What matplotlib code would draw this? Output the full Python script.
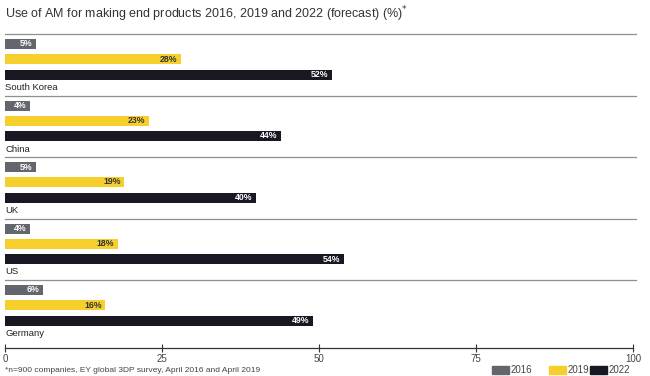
import matplotlib.pyplot as plt
from matplotlib.patches import Rectangle

countries = ['South Korea', 'China', 'UK', 'US', 'Germany']
v2016 = [5, 4, 5, 4, 6]
v2019 = [28, 23, 19, 18, 16]
v2022 = [52, 44, 40, 54, 49]
years = ['2016', '2019', '2022']
colors = ['#63666c', '#f7cf2c', '#171822']
txt_colors = ['white', '#333333', 'white']

plt.rcParams['font.family'] = ['Liberation Sans', 'DejaVu Sans']

W, H = 650, 376
fig = plt.figure(figsize=(W / 100, H / 100), dpi=100)
ax = fig.add_axes([5 / W, 1 - 348 / H, 628 / W, (348 - 34) / H])

grp = 61.5          # group height in pixel-like units
offs = [10, 25, 40.5]
bh = 10

for i, c in enumerate(countries):
    y0 = i * grp
    ax.axhline(y0, color='#8f8f8f', lw=0.9, xmin=0, xmax=1.005, clip_on=False)
    for k, vals in enumerate([v2016, v2019, v2022]):
        v = vals[i]
        ax.barh(y0 + offs[k], v, height=bh, color=colors[k], left=0)
        ax.text(v - 0.6, y0 + offs[k], f'{v}%', ha='right', va='center',
                fontsize=6.3, fontweight='bold', color=txt_colors[k])
    ax.text(0, y0 + 53.5, c, ha='left', va='center', fontsize=6.8,
            color='#222222')

ax.set_xlim(0, 100)
ax.set_ylim(314, 0)
for s in ['top', 'right', 'left']:
    ax.spines[s].set_visible(False)
ax.spines['bottom'].set_color('#333333')
ax.spines['bottom'].set_linewidth(0.9)
ax.set_yticks([])
ax.set_xticks([0, 25, 50, 75, 100])
ax.tick_params(axis='x', direction='inout', length=6, width=0.8,
               colors='#333333', labelsize=7, pad=1, labelcolor='#444444')

fig.text(5 / W, 1 - 14 / H, 'Use of AM for making end products 2016, 2019 and 2022 (forecast) (%)$^{*}$',
         ha='left', va='center', fontsize=9, color='#333333')
fig.text(5 / W, 1 - 370 / H, '*n=900 companies, EY global 3DP survey, April 2016 and April 2019',
         ha='left', va='center', fontsize=6, color='#444444')

lx = [492, 549, 590]
for k, yr in enumerate(years):
    fig.patches.append(Rectangle((lx[k] / W, 1 - 374 / H), 17 / W, 8 / H,
                                 transform=fig.transFigure, color=colors[k]))
    fig.text((lx[k] + 19) / W, 1 - 370 / H, yr, ha='left', va='center',
             fontsize=7, color='#444444')

fig.savefig('out.png', dpi=100)
